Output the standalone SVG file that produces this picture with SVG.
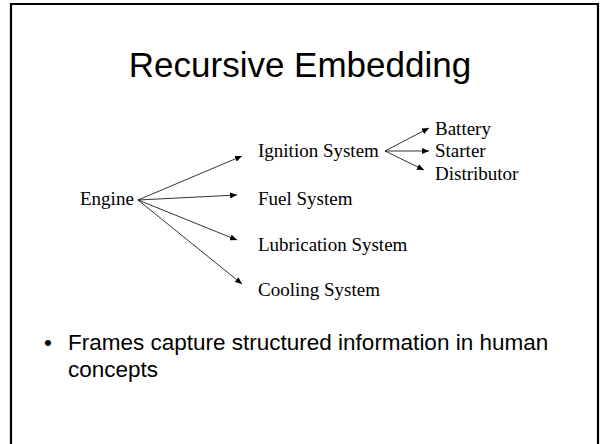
<svg xmlns="http://www.w3.org/2000/svg" width="600" height="444" viewBox="0 0 600 444">
<style>
.lbl{font-family:"Liberation Serif","Times New Roman",serif;font-size:19px;fill:#000}
.sans{font-family:"Liberation Sans",Arial,sans-serif;fill:#000}
.conn line{stroke:#000;stroke-width:0.8;marker-end:url(#ah)}
</style>
<defs>
<marker id="ah" markerUnits="userSpaceOnUse" markerWidth="7" markerHeight="6" refX="7" refY="3" orient="auto">
<path d="M0,0 L7,3 L0,6 z" fill="#000"/>
</marker>
</defs>
<rect width="600" height="444" fill="#fff"/>
<path d="M11,446 V4 H598 V446" fill="none" stroke="#000" stroke-width="2.2"/>
<text class="sans" x="300" y="77" font-size="35" text-anchor="middle">Recursive Embedding</text>
<g class="conn" id="connectors">
<line x1="138" y1="200" x2="242" y2="156"/>
<line x1="138" y1="200" x2="237" y2="195"/>
<line x1="138" y1="200" x2="237" y2="240"/>
<line x1="138" y1="200" x2="242" y2="284"/>
<line x1="385" y1="151" x2="429" y2="128"/>
<line x1="385" y1="151" x2="429" y2="151"/>
<line x1="385" y1="151" x2="424" y2="170"/>
</g>
<g id="engine"><text class="lbl" x="80" y="205">Engine</text></g>
<g id="ignition"><text class="lbl" x="258" y="157">Ignition System</text></g>
<g id="fuel"><text class="lbl" x="258" y="205">Fuel System</text></g>
<g id="lubrication"><text class="lbl" x="258" y="251">Lubrication System</text></g>
<g id="cooling"><text class="lbl" x="258" y="296">Cooling System</text></g>
<g id="battery"><text class="lbl" x="435" y="135">Battery</text></g>
<g id="starter"><text class="lbl" x="435" y="157">Starter</text></g>
<g id="distributor"><text class="lbl" x="435" y="180">Distributor</text></g>
<text class="sans" x="44" y="350" font-size="22.5">•</text>
<text class="sans" x="68" y="350" font-size="22.5">Frames capture structured information in human</text>
<text class="sans" x="68" y="377" font-size="22.5">concepts</text>
</svg>
